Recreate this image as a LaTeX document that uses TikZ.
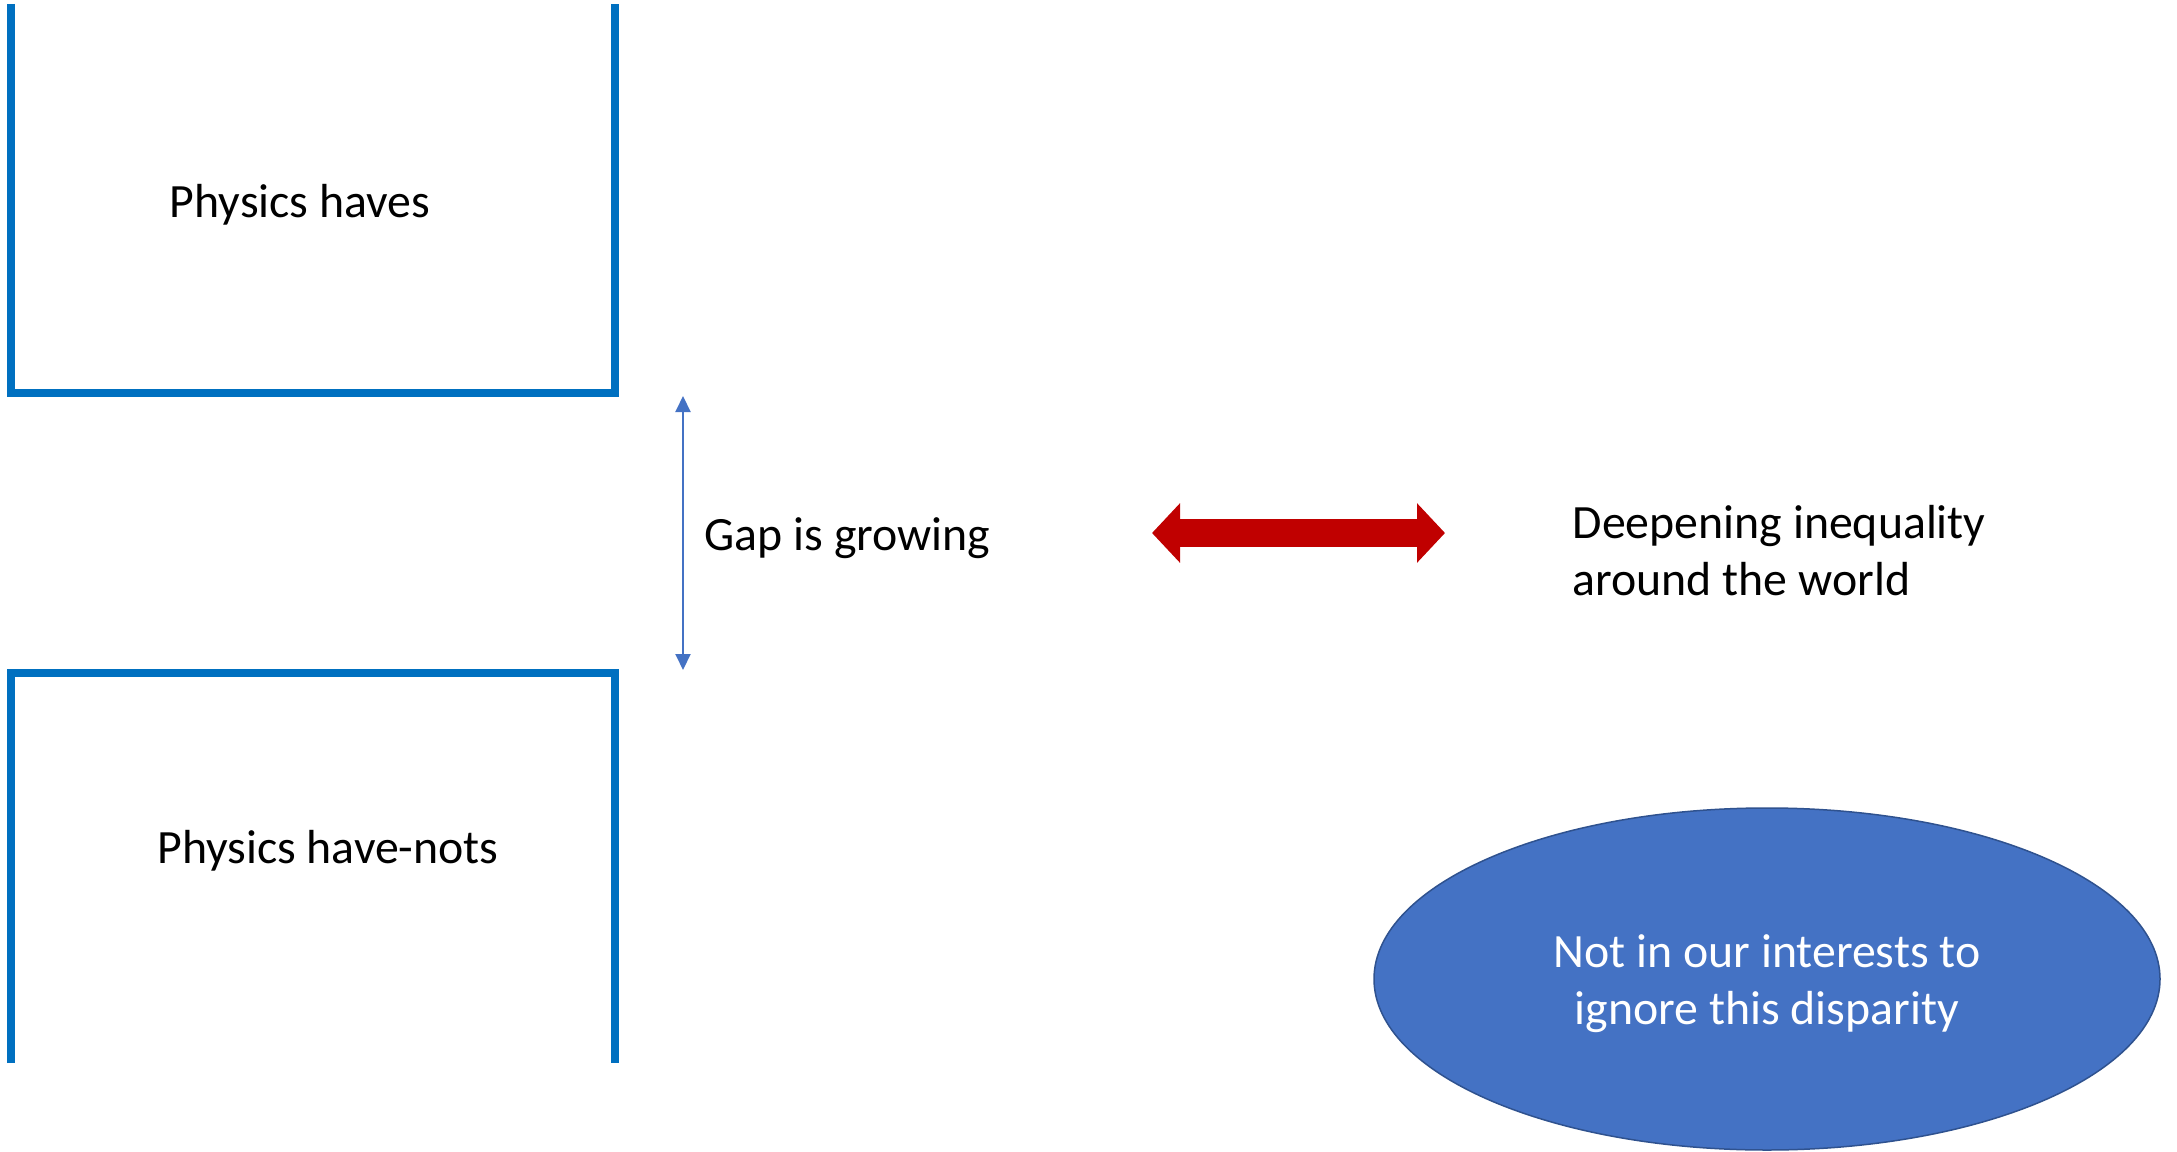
\documentclass[tikz,border=0pt]{standalone}
\usepackage{fontspec}
\setmainfont{Carlito}
\usetikzlibrary{arrows.meta,shapes.geometric}

\definecolor{boxblue}{HTML}{0070C0}
\definecolor{gapblue}{HTML}{4472C4}
\definecolor{ovalline}{HTML}{2F528F}
\definecolor{arrowred}{HTML}{C00000}

\tikzset{
	bracket/.style={draw=boxblue, line width=0.08cm},
	label/.style={font=\fontsize{13.6}{16.2}\selectfont, inner sep=0pt},
	gaparrow/.style={draw=gapblue, line width=0.02cm, {Triangle[length=0.16cm,width=0.15cm]}-{Triangle[length=0.16cm,width=0.15cm]}},
	bigarrow/.style={draw=arrowred, line width=0.28cm, {Triangle[length=0.28cm,width=0.58cm]}-{Triangle[length=0.28cm,width=0.58cm]}},
	oval/.style={ellipse, fill=gapblue, draw=ovalline, line width=0.015cm, minimum width=7.86cm, minimum height=3.42cm, inner sep=0pt}
}

\begin{document}
\begin{tikzpicture}
				\useasboundingbox (0,0) rectangle (21.77,11.51);
				
				% the two open boxes
				\draw[bracket] (0.11,11.47) -- (0.11,7.58) -- (6.15,7.58) -- (6.15,11.47);
				\draw[bracket] (0.11,0.88) -- (0.11,4.78) -- (6.15,4.78) -- (6.15,0.88);
				\node[label] (haves) at (3.00,9.46) {Physics haves};
				\node[label] (havenots) at (3.28,3.00) {Physics have-nots};
				
				% the gap between them
				\coordinate (gaptop) at (6.83,7.55);
				\coordinate (gapbot) at (6.83,4.81);
				\draw[gaparrow] (gaptop) -- (gapbot);
				\node[label, anchor=west] (gap) at (7.04,6.13) {Gap is growing};
				
				\coordinate (redleft) at (11.52,6.18);
				\coordinate (redright) at (14.45,6.18);
				\draw[bigarrow] (redleft) -- (redright);
				\node[label, anchor=west, align=left] (world) at (15.72,6.00) {Deepening inequality\\around the world};
				
				\node[oval] (interest) at (17.67,1.72) {};
				\node[label, text=white, align=center] (interesttext) at (17.67,1.67) {Not in our interests to\\ignore this disparity};
			\end{tikzpicture}
\end{document}
